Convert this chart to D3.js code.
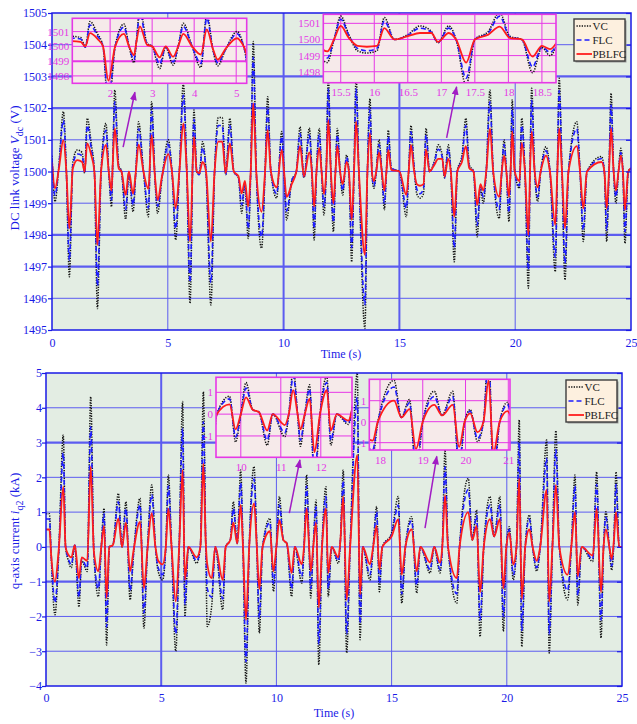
<!DOCTYPE html>
<html>
<head>
<meta charset="utf-8">
<script src="https://cdn.jsdelivr.net/npm/d3@7"></script>
<style>body{margin:0;background:#fff}</style>
</head>
<body>
<script>
// ---- data (knots of each trace) ----
const seriesNames = ["VC", "FLC", "PBLFC"];

// DC link voltage (V)
const dcTime = [
  0, 0.13, 0.3, 0.49, 0.62, 0.75, 0.9, 1.09, 1.3, 1.41,
  1.52, 1.7, 1.83, 1.96, 2.12, 2.33, 2.45, 2.57, 2.62, 2.71,
  2.88, 3.0, 3.18, 3.32, 3.5, 3.62, 3.74, 3.95, 4.16, 4.3,
  4.45, 4.56, 4.75, 5.02, 5.18, 5.34, 5.5, 5.67, 5.82, 5.96,
  6.13, 6.25, 6.36, 6.5, 6.65, 6.86, 7.02, 7.18, 7.35, 7.5,
  7.68, 7.85, 8.05, 8.19, 8.33, 8.47, 8.58, 8.69, 8.82, 9.05,
  9.2, 9.31, 9.45, 9.7, 9.92, 10.02, 10.13, 10.35, 10.55, 10.71,
  10.88, 11.11, 11.22, 11.32, 11.42, 11.54, 11.64, 11.74, 11.84, 11.93,
  12.04, 12.15, 12.24, 12.32, 12.44, 12.55, 12.72, 12.82, 12.94, 13.04,
  13.13, 13.25, 13.51, 13.62, 13.73, 13.82, 13.9, 14.0, 14.12, 14.24,
  14.35, 14.44, 14.52, 14.65, 15.0, 15.3, 15.4, 15.5, 15.62, 15.75,
  15.89, 16.04, 16.15, 16.3, 16.5, 16.68, 16.85, 16.95, 17.11, 17.22,
  17.37, 17.5, 17.7, 17.87, 18.02, 18.2, 18.36, 18.5, 18.62, 18.75,
  18.91, 19.05, 19.31, 19.42, 19.52, 19.62, 19.73, 19.8, 19.87, 19.98,
  20.18, 20.28, 20.42, 20.57, 20.64, 20.71, 20.84, 20.97, 21.1, 21.33,
  21.5, 21.73, 21.82, 21.9, 22.02, 22.15, 22.3, 22.66, 22.8, 22.94,
  23.1, 23.73, 23.85, 23.95, 24.05, 24.14, 24.25, 24.35, 24.46, 24.56,
  24.65, 24.74, 24.88, 25
];
const dcVC = [
  1500.5, 1499.05, 1500.2, 1501.89, 1500, 1496.68, 1500.3, 1500.68, 1500.6, 1499.95,
  1501.68, 1500.85, 1500, 1495.68, 1500, 1501.52, 1500, 1498.89, 1500.2, 1502.57,
  1500.2, 1500, 1498.49, 1499.95, 1498.73, 1500, 1501.57, 1500, 1498.57, 1502.2,
  1499.7, 1498.68, 1499.8, 1501, 1500, 1497.84, 1500, 1502.78, 1500, 1495.84,
  1501.94, 1500, 1499.9, 1500.94, 1500, 1495.79, 1500, 1501.7, 1501.7, 1499.9,
  1501.68, 1500, 1499.8, 1498.68, 1499.6, 1497.89, 1500, 1504.1, 1500, 1497.58,
  1500, 1502.36, 1500, 1499.16, 1501.26, 1500, 1498.47, 1499.7, 1500, 1501.41,
  1499.8, 1501.37, 1500, 1497.84, 1500, 1501.36, 1500, 1498.63, 1500, 1503,
  1500, 1498.1, 1500, 1501.36, 1500, 1499.26, 1500.52, 1500, 1497.15, 1500,
  1503, 1500, 1495.05, 1500, 1502.3, 1499.9, 1499.47, 1500, 1501, 1500,
  1498.79, 1500, 1501.3, 1500.1, 1500, 1498.57, 1500, 1501.45, 1500.3, 1499.3,
  1499.16, 1499.3, 1501.36, 1500, 1500.3, 1500.84, 1500.5, 1499.8, 1500.84, 1500,
  1497.15, 1500, 1500.5, 1501.68, 1500.2, 1500, 1497.94, 1499.5, 1499, 1500,
  1502.57, 1500, 1498.52, 1500, 1501, 1500, 1498.42, 1500, 1502.26, 1500,
  1499.47, 1501.68, 1500, 1496.32, 1500, 1502.63, 1500, 1499.05, 1500, 1500.78,
  1500, 1496.84, 1500, 1502.94, 1500, 1496.58, 1500, 1501.57, 1500, 1497.79,
  1500, 1500.47, 1500, 1497.79, 1500, 1502.47, 1500, 1499, 1500, 1500.73,
  1500, 1497.73, 1500, 1500.1
];
const dcFLC = [
  1500.4, 1499.25, 1500.2, 1501.62, 1500, 1497.2, 1500.2, 1500.55, 1500.5, 1499.95,
  1501.45, 1500.7, 1500, 1496.4, 1500, 1501.3, 1500, 1499.1, 1500.2, 1502.2,
  1500.15, 1500, 1498.8, 1499.95, 1498.95, 1500, 1501.35, 1500, 1498.85, 1501.9,
  1499.75, 1498.9, 1499.8, 1500.85, 1500, 1498.2, 1500, 1502.4, 1500, 1496.5,
  1501.65, 1500, 1499.9, 1500.75, 1500, 1496.5, 1500, 1501.45, 1501.45, 1499.9,
  1501.45, 1500, 1499.8, 1498.95, 1499.65, 1498.2, 1500, 1503.6, 1500, 1497.95,
  1500, 1502, 1500, 1499.3, 1501.1, 1500, 1498.75, 1499.7, 1500, 1501.2,
  1499.8, 1501.15, 1500, 1498.2, 1500, 1501.15, 1500, 1498.9, 1500, 1502.6,
  1500, 1498.4, 1500, 1501.15, 1500, 1499.4, 1500.45, 1500, 1497.6, 1500,
  1502.6, 1500, 1495.8, 1500, 1501.95, 1499.9, 1499.55, 1500, 1500.85, 1500,
  1499, 1500, 1501.1, 1500.1, 1500, 1498.85, 1500, 1501.25, 1500.25, 1499.45,
  1499.3, 1499.45, 1501.15, 1500, 1500.25, 1500.7, 1500.45, 1499.8, 1500.7, 1500,
  1497.6, 1500, 1500.4, 1501.45, 1500.15, 1500, 1498.3, 1499.55, 1499.2, 1500,
  1502.2, 1500, 1498.8, 1500, 1500.85, 1500, 1498.7, 1500, 1501.95, 1500,
  1499.55, 1501.45, 1500, 1496.9, 1500, 1502.25, 1500, 1499.2, 1500, 1500.65,
  1500, 1497.3, 1500, 1502.55, 1500, 1497.1, 1500, 1501.35, 1500, 1498.15,
  1500, 1500.4, 1500, 1498.15, 1500, 1502.1, 1500, 1499.2, 1500, 1500.6,
  1500, 1498.1, 1500, 1500.1
];
const dcPBLFC = [
  1500.3, 1499.47, 1500.1, 1500.99, 1500, 1498.21, 1500.1, 1500.36, 1500.3, 1500,
  1500.89, 1500.5, 1500, 1497.68, 1500, 1500.84, 1500, 1499.4, 1500.2, 1501.36,
  1500.1, 1500, 1499.26, 1500, 1499.3, 1500, 1500.85, 1500, 1499.45, 1501.15,
  1499.8, 1499.1, 1499.85, 1500.55, 1500, 1498.84, 1500, 1501.52, 1500, 1497.79,
  1501.1, 1500, 1499.95, 1500.3, 1500, 1497.79, 1500, 1500.94, 1500.94, 1499.95,
  1500.89, 1500, 1499.85, 1499.31, 1499.7, 1498.89, 1500, 1502.15, 1500, 1498.73,
  1500, 1501.31, 1500, 1499.5, 1500.68, 1500, 1499.2, 1499.6, 1500, 1500.8,
  1499.85, 1500.6, 1500, 1498.89, 1500, 1500.74, 1500, 1499.3, 1500, 1501.62,
  1500, 1499, 1500, 1500.8, 1500, 1499.6, 1500.3, 1500, 1498.47, 1500,
  1501.57, 1500, 1497.37, 1500, 1501.2, 1499.95, 1499.7, 1500, 1500.6, 1500,
  1499.4, 1500, 1500.68, 1500.05, 1500, 1499.26, 1500, 1500.84, 1500.1, 1499.6,
  1499.55, 1499.6, 1500.7, 1500, 1500.2, 1500.4, 1500.4, 1499.85, 1500.4, 1500,
  1498.57, 1500, 1500.3, 1500.8, 1500.1, 1500, 1498.94, 1499.6, 1499.4, 1500,
  1501.36, 1500, 1499.2, 1500, 1500.5, 1500, 1499.2, 1500, 1501.26, 1500,
  1499.7, 1500.9, 1500, 1498, 1500, 1501.26, 1500, 1499.5, 1500, 1500.5,
  1500, 1498.31, 1500, 1501.36, 1500, 1498.21, 1500, 1500.8, 1500, 1498.84,
  1500, 1500.3, 1500, 1498.84, 1500, 1501.36, 1500, 1499.4, 1500, 1500.5,
  1500, 1498.79, 1500, 1500.1
];

// q-axis current (kA)
const iqTime = [
  0, 0.15, 0.22, 0.39, 0.55, 0.75, 0.85, 0.95, 1.1, 1.25,
  1.43, 1.55, 1.79, 1.94, 2.08, 2.27, 2.4, 2.52, 2.63, 2.75,
  2.9, 3.14, 3.3, 3.47, 3.65, 3.8, 4.08, 4.25, 4.4, 4.59,
  4.75, 4.87, 5.06, 5.2, 5.31, 5.45, 5.63, 5.78, 5.93, 6.03,
  6.18, 6.54, 6.7, 6.83, 6.93, 7.0, 7.19, 7.35, 7.67, 7.8,
  8.0, 8.13, 8.3, 8.45, 8.55, 8.68, 8.82, 9.03, 9.15, 9.26,
  9.4, 9.72, 9.87, 10.0, 10.13, 10.3, 10.45, 10.66, 10.8, 11.1,
  11.2, 11.31, 11.42, 11.49, 11.6, 11.72, 11.84, 11.98, 12.15, 12.25,
  12.4, 12.69, 12.78, 12.9, 13.05, 13.2, 13.51, 13.63, 13.75, 14.06,
  14.2, 14.35, 14.47, 14.6, 15.0, 15.29, 15.44, 15.6, 15.87, 16.09,
  16.25, 16.67, 16.85, 17.1, 17.2, 17.32, 17.45, 17.83, 17.95, 18.33,
  18.5, 18.69, 18.84, 19.0, 19.27, 19.45, 19.7, 19.85, 19.98, 20.11,
  20.28, 20.42, 20.54, 20.65, 20.8, 20.98, 21.12, 21.3, 21.45, 21.73,
  21.84, 21.98, 22.13, 22.28, 22.64, 22.8, 22.96, 23.08, 23.25, 23.73,
  23.9, 24.09, 24.2, 24.3, 24.45, 24.55, 24.65, 24.74, 24.88, 25
];
const iqVC = [
  0.95, 0.95, -0.2, -1.95, -0.2, 3.22, 0, -0.35, -0.6, 0.05,
  -1.73, -0.4, -0.71, 4.32, -0.2, -1.43, 0, 1.11, -2.82, 0,
  0.05, 1.54, 0, 1.3, -1.52, -0.2, 1.4, -2.34, -0.1, 1.78,
  0, -0.71, -0.95, 0, 2.07, 0, -3.0, 0, 4.18, -2.0,
  0, -0.47, 0, 4.46, 0.2, -2.29, -1.71, 0, -1.81, 0,
  0.2, 1.3, 0.1, 2.21, 0, -3.92, 0, 2.31, 0, -2.48,
  0, 0.82, -1.28, 0, 1.45, 0.2, 0.1, -1.43, 0, -1.04,
  0, 2.07, 0, -1.47, 0, 1.35, -3.39, 0, 1.73, -1.43,
  0, -0.47, 0.2, 2.21, -3.05, 0, 5.0, -2.67, 0, -0.95,
  0, 1.16, -1.29, 0, 0.4, 1.45, -1.62, 0, 0.87, -1.33,
  0, -0.75, 0, -0.75, 0, 2.79, 0, -1.62, 0, 1.97,
  0.2, 1.06, -2.58, 0, 1.45, 0.3, 1.45, -2.43, 0, 0.58,
  -0.95, 0, 3.65, -2.87, 0, 0.92, 0, -0.7, 0, 3.07,
  -3.05, 0, 3.34, 0, -1.52, 0, 2.07, -1.67, 0, -0.42,
  2.16, -2.62, 0, 1.01, 0, -0.67, 0.2, 2.16, 0, 0
];
const iqFLC = [
  0.8, 0.8, -0.15, -1.6, -0.2, 2.7, 0, -0.3, -0.5, 0.05,
  -1.45, -0.35, -0.6, 3.45, -0.2, -1.2, 0, 0.95, -2.3, 0,
  0.05, 1.3, 0, 1.1, -1.25, -0.2, 1.2, -1.9, -0.1, 1.5,
  0, -0.6, -0.8, 0, 1.75, 0, -2.5, 0, 3.4, -1.65,
  0, -0.4, 0, 3.6, 0.2, -1.2, -1.45, 0, -1.5, 0,
  0.2, 1.1, 0.1, 1.85, 0, -3.3, 0, 1.95, 0, -2.05,
  0, 0.7, -1.05, 0, 1.2, 0.2, 0.1, -1.2, 0, -0.85,
  0, 1.75, 0, -1.2, 0, 1.15, -2.8, 0, 1.45, -1.2,
  0, -0.4, 0.2, 1.9, -2.5, 0, 4.3, -2.2, 0, -0.8,
  0, 1.0, -1.05, 0, 0.35, 1.2, -1.35, 0, 0.75, -1.1,
  0, -0.65, 0, -0.65, 0, 2.3, 0, -1.35, 0, 1.65,
  0.2, 0.9, -2.1, 0, 1.2, 0.3, 1.2, -2.0, 0, 0.5,
  -0.8, 0, 3.0, -2.4, 0, 0.8, 0, -0.6, 0, 2.55,
  -2.5, 0, 2.8, 0, -1.25, 0, 1.75, -1.4, 0, -0.35,
  1.8, -2.1, 0, 0.85, 0, -0.55, 0.2, 1.8, 0, 0
];
const iqPBLFC = [
  0.5, 0.5, -0.2, -1.0, -0.1, 1.73, 0, -0.2, -0.3, 0.05,
  -0.9, -0.3, -0.4, 2.31, -0.15, -0.7, 0, 0.6, -1.47, 0,
  0.05, 0.82, 0, 0.7, -0.7, -0.1, 0.72, -1.19, -0.1, 0.97,
  0, -0.4, -0.5, 0, 1.1, 0, -1.57, 0, 2.21, -0.95,
  0, -0.3, 0, 2.4, 0.2, -0.5, -0.9, 0, -0.95, 0,
  0.2, 0.7, 0.1, 1.21, 0, -2.1, 0, 1.25, 0, -1.21,
  0, 0.45, -0.7, 0, 0.77, 0.2, 0.1, -0.75, 0, -0.5,
  0, 1.1, 0, -0.7, 0, 0.7, -1.74, 0, 1.1, -0.75,
  0, -0.3, 0.2, 1.45, -1.52, 0, 2.64, -1.37, 0, -0.5,
  0, 0.6, -0.65, 0, 0.3, 0.8, -0.8, 0, 0.5, -0.7,
  0, -0.45, 0, -0.45, 0, 1.49, 0, -0.9, 0, 1.0,
  0.2, 0.6, -1.3, 0, 0.8, 0.3, 0.8, -1.2, 0, 0.4,
  -0.5, 0, 1.97, -1.5, 0, 0.5, 0, -0.4, 0, 1.64,
  -1.57, 0, 1.78, 0, -0.8, 0, 1.0, -0.85, 0, -0.25,
  1.1, -1.3, 0, 0.5, 0, -0.35, 0.2, 1.0, 0, 0
];

// tick values
const timeTicks = [0, 5, 10, 15, 20, 25];
const dcTicks = [1495, 1496, 1497, 1498, 1499, 1500, 1501, 1502, 1503, 1504, 1505];
const iqTicks = [-4, -3, -2, -1, 0, 1, 2, 3, 4, 5];
const inset1Ticks = [2, 3, 4, 5];
const inset2Ticks = [15.5, 16, 16.5, 17, 17.5, 18, 18.5];
const insetDcTicks = [1498, 1499, 1500, 1501];
const inset3Ticks = [10, 11, 12];
const inset4Ticks = [18, 19, 20, 21];
const insetIqTicks = [-1, 0, 1];

// ---- drawing ----
const W = 637, H = 724;
const serif = '"Liberation Serif", "Times New Roman", serif';
const axisBlue = "#1a1ae6";
const gridBlue = "#5c5cf0";
const pink = "#e638e6";
const arrowCol = "#a11dc4";
const styles = {
  VC:    {color: "#111111", dash: "1.3,1.3", width: 1.5},
  FLC:   {color: "#1c1cff", dash: "5,3",     width: 1.6},
  PBLFC: {color: "#ff1c1c", dash: null,      width: 1.8}
};

const svg = d3.select("body").append("svg").attr("width", W).attr("height", H);
svg.append("rect").attr("width", W).attr("height", H).attr("fill", "#fff");
const defs = svg.append("defs");
defs.append("marker")
  .attr("id", "arrowHead")
  .attr("viewBox", "0 -4 10 8")
  .attr("refX", 9).attr("refY", 0)
  .attr("markerWidth", 9).attr("markerHeight", 7)
  .attr("markerUnits", "userSpaceOnUse")
  .attr("orient", "auto")
  .append("path").attr("d", "M0,-4L10,0L0,4Z").attr("fill", arrowCol);

let clipCount = 0;
function addClip(x0, y0, w, h) {
  const id = "clip" + (clipCount++);
  defs.append("clipPath").attr("id", id)
    .append("rect").attr("x", x0).attr("y", y0).attr("width", w).attr("height", h);
  return "url(#" + id + ")";
}

function drawSeries(g, time, seriesVals, x, y) {
  seriesNames.forEach((name, k) => {
    const vals = seriesVals[k];
    const line = d3.line()
      .x(i => x(time[i]))
      .y(i => y(vals[i]))
      .curve(d3.curveMonotoneX);
    const st = styles[name];
    g.append("path")
      .datum(d3.range(time.length))
      .attr("d", line)
      .attr("fill", "none")
      .attr("stroke", st.color)
      .attr("stroke-width", st.width)
      .attr("stroke-dasharray", st.dash)
      .attr("stroke-linejoin", "round");
  });
}

function panel(cfg) {
  const g = svg.append("g");
  const x = d3.scaleLinear().domain([0, 25]).range([cfg.left, cfg.right]);
  const y = d3.scaleLinear().domain(cfg.yDomain).range([cfg.bottom, cfg.top]);
  const pw = cfg.right - cfg.left, ph = cfg.bottom - cfg.top;

  g.append("rect").attr("x", cfg.left).attr("y", cfg.top)
    .attr("width", pw).attr("height", ph).attr("fill", "#e3ede3");

  // grid
  g.selectAll(".hgrid").data(cfg.yTicks.slice(1, -1)).join("line")
    .attr("x1", cfg.left).attr("x2", cfg.right)
    .attr("y1", d => y(d)).attr("y2", d => y(d))
    .attr("stroke", gridBlue)
    .attr("stroke-width", d => cfg.thickY.includes(d) ? 2.2 : 1);
  g.selectAll(".vgrid").data(timeTicks.slice(1, -1)).join("line")
    .attr("y1", cfg.top).attr("y2", cfg.bottom)
    .attr("x1", d => x(d)).attr("x2", d => x(d))
    .attr("stroke", gridBlue)
    .attr("stroke-width", d => cfg.thickX.includes(d) ? 2 : 1);

  // traces
  const lines = g.append("g").attr("clip-path", addClip(cfg.left, cfg.top, pw, ph));
  drawSeries(lines, cfg.time, cfg.values, x, y);

  // axes
  const left = g.append("g").attr("transform", `translate(${cfg.left},0)`)
    .call(d3.axisLeft(y).tickValues(cfg.yTicks).tickSize(4).tickPadding(cfg.yPad).tickFormat(d3.format("d")));
  const right = g.append("g").attr("transform", `translate(${cfg.right},0)`)
    .call(d3.axisLeft(y).tickValues(cfg.yTicks).tickSize(5).tickFormat(""));
  const bottom = g.append("g").attr("transform", `translate(0,${cfg.bottom})`)
    .call(d3.axisBottom(x).tickValues(timeTicks).tickSize(0).tickPadding(cfg.xPad).tickFormat(d3.format("d")));
  [left, right, bottom].forEach(a => {
    a.select(".domain").remove();
    a.selectAll("line").attr("stroke", axisBlue).attr("stroke-width", 1.2);
    a.selectAll("text").attr("fill", axisBlue)
      .style("font-family", serif).style("font-size", "12px");
  });

  g.append("rect").attr("x", cfg.left).attr("y", cfg.top)
    .attr("width", pw).attr("height", ph)
    .attr("fill", "none").attr("stroke", axisBlue).attr("stroke-width", 1.5);

  // insets
  cfg.insets.forEach(ins => {
    const ig = svg.append("g");
    const ix = d3.scaleLinear().domain(ins.tDomain).range([ins.x0, ins.x1]);
    const iy = d3.scaleLinear().domain(ins.vDomain).range([ins.y1, ins.y0]);
    ig.append("rect").attr("x", ins.x0).attr("y", ins.y0)
      .attr("width", ins.x1 - ins.x0).attr("height", ins.y1 - ins.y0)
      .attr("fill", "#f6eaea");
    ig.selectAll(".ih").data(ins.yTicks).join("line")
      .attr("x1", ins.x0).attr("x2", ins.x1)
      .attr("y1", d => iy(d)).attr("y2", d => iy(d))
      .attr("stroke", pink).attr("stroke-width", d => d === ins.thick ? 2 : 1);
    ig.selectAll(".iv").data(ins.xTicks).join("line")
      .attr("y1", ins.y0).attr("y2", ins.y1)
      .attr("x1", d => ix(d)).attr("x2", d => ix(d))
      .attr("stroke", pink).attr("stroke-width", 1);
    const il = ig.append("g").attr("clip-path",
      addClip(ins.x0, ins.y0, ins.x1 - ins.x0, ins.y1 - ins.y0));
    drawSeries(il, cfg.time, cfg.values, ix, iy);
    ig.append("rect").attr("x", ins.x0).attr("y", ins.y0)
      .attr("width", ins.x1 - ins.x0).attr("height", ins.y1 - ins.y0)
      .attr("fill", "none").attr("stroke", pink).attr("stroke-width", 1.6);
    const ia = ig.append("g").attr("transform", `translate(${ins.x0},0)`)
      .call(d3.axisLeft(iy).tickValues(ins.yTicks).tickSize(0).tickPadding(3).tickFormat(d => String(d)));
    const ib = ig.append("g").attr("transform", `translate(0,${ins.y1})`)
      .call(d3.axisBottom(ix).tickValues(ins.xTicks).tickSize(0).tickPadding(6).tickFormat(d => String(d)));
    [ia, ib].forEach(a => {
      a.select(".domain").remove();
      a.selectAll("text").attr("fill", pink)
        .style("font-family", serif).style("font-size", "11px");
    });
  });

  // arrows from the traces to the insets
  cfg.arrows.forEach(ar => {
    svg.append("line")
      .attr("x1", x(ar.from[0])).attr("y1", y(ar.from[1]))
      .attr("x2", x(ar.to[0])).attr("y2", y(ar.to[1]))
      .attr("stroke", arrowCol).attr("stroke-width", 1.5)
      .attr("marker-end", "url(#arrowHead)");
  });

  // legend
  const lg = svg.append("g").attr("transform", `translate(${cfg.legend[0]},${cfg.legend[1]})`);
  lg.append("rect").attr("x", 1.5).attr("y", 1.5).attr("width", 51).attr("height", 42).attr("fill", "#9a9a9a");
  lg.append("rect").attr("width", 51).attr("height", 42)
    .attr("fill", "#fdf0df").attr("stroke", "#3c3c3c").attr("stroke-width", 1.4);
  seriesNames.forEach((name, k) => {
    const yy = 7 + k * 14;
    const st = styles[name];
    lg.append("line").attr("x1", 2.5).attr("x2", 18).attr("y1", yy).attr("y2", yy)
      .attr("stroke", st.color).attr("stroke-width", st.width).attr("stroke-dasharray", st.dash);
    lg.append("text").attr("x", 18.5).attr("y", yy + 3.8).text(name)
      .attr("fill", "#222").style("font-family", serif).style("font-size", "11px");
  });

  // titles
  svg.append("text").attr("x", cfg.xTitle[0]).attr("y", cfg.xTitle[1])
    .attr("text-anchor", "middle").attr("fill", axisBlue)
    .style("font-family", serif).style("font-size", "12px").text("Time (s)");
  const yt = svg.append("text")
    .attr("transform", `translate(${cfg.yTitle[0]},${cfg.yTitle[1]}) rotate(-90)`)
    .attr("text-anchor", "middle").attr("fill", axisBlue)
    .style("font-family", serif).style("font-size", "13px");
  yt.append("tspan").text(cfg.yLabel[0]);
  yt.append("tspan").attr("font-style", "italic").text(cfg.yLabel[1]);
  yt.append("tspan").attr("dy", 3.5).style("font-size", "10px").text(cfg.yLabel[2]);
  yt.append("tspan").attr("dy", -3.5).text(cfg.yLabel[3]);
}

panel({
  left: 52, right: 631, top: 13, bottom: 330,
  yDomain: [1495, 1505], yTicks: dcTicks, yPad: 1, xPad: 8,
  thickY: [1497, 1498, 1502, 1503], thickX: [10, 15],
  time: dcTime, values: [dcVC, dcFLC, dcPBLFC],
  insets: [
    {x0: 72.3, x1: 246.7, y0: 18.3, y1: 83.3, tDomain: [1.1, 5.25], vDomain: [1497.5, 1501.9],
     xTicks: inset1Ticks, yTicks: insetDcTicks, thick: 1499},
    {x0: 323.3, x1: 556, y0: 14.3, y1: 82.7, tDomain: [15.24, 18.71], vDomain: [1497.32, 1501.56],
     xTicks: inset2Ticks, yTicks: insetDcTicks, thick: null}
  ],
  arrows: [
    {from: [3.07, 1500.77], to: [3.58, 1502.5]},
    {from: [17.04, 1501.06], to: [17.47, 1502.67]}
  ],
  legend: [574, 19],
  xTitle: [341, 358], yTitle: [19, 168],
  yLabel: ["DC link voltage ", "V", "dc", " (V)"]
});

panel({
  left: 46, right: 622, top: 373, bottom: 686,
  yDomain: [-4, 5], yTicks: iqTicks, yPad: 0, xPad: 7,
  thickY: [3, -1], thickX: [5],
  time: iqTime, values: [iqVC, iqFLC, iqPBLFC],
  insets: [
    {x0: 216, x1: 352, y0: 377.3, y1: 457.3, tDomain: [9.38, 12.78], vDomain: [-1.98, 1.69],
     xTicks: inset3Ticks, yTicks: insetIqTicks, thick: null},
    {x0: 369.3, x1: 510, y0: 379.3, y1: 450, tDomain: [17.75, 21.04], vDomain: [-1.35, 2.02],
     xTicks: inset4Ticks, yTicks: insetIqTicks, thick: null}
  ],
  arrows: [
    {from: [10.56, 0.97], to: [11.02, 2.5]},
    {from: [16.45, 0.54], to: [16.96, 2.6]}
  ],
  legend: [566, 380],
  xTitle: [334, 717], yTitle: [19, 531],
  yLabel: ["q-axis current ", "i", "q2", " (kA)"]
});
</script>
</body>
</html>
